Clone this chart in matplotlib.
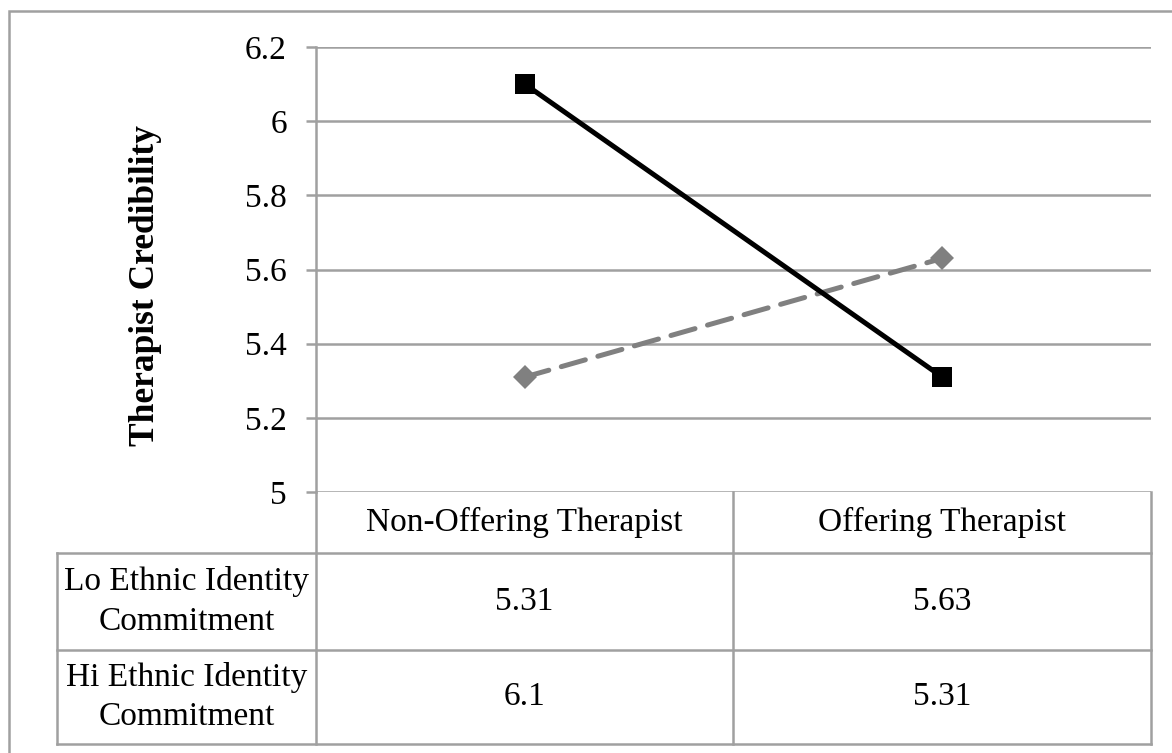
import matplotlib
matplotlib.use("Agg")
import matplotlib.pyplot as plt
from matplotlib.patches import Rectangle
from matplotlib.lines import Line2D

categories = ["Non-Offering Therapist", "Offering Therapist"]
series_names = ["Lo Ethnic Identity\nCommitment", "Hi Ethnic Identity\nCommitment"]
lo_values = [5.31, 5.63]
hi_values = [6.1, 5.31]
value_labels = [["5.31", "5.63"], ["6.1", "5.31"]]
y_ticks = [5, 5.2, 5.4, 5.6, 5.8, 6, 6.2]
y_ticklabels = ["5", "5.2", "5.4", "5.6", "5.8", "6", "6.2"]
y_label = "Therapist Credibility"

plt.rcParams['font.family'] = ['Liberation Serif', 'DejaVu Serif']
W, H = 1172, 753
fig = plt.figure(figsize=(W / 100, H / 100), dpi=100)

GRAY = "#a0a0a0"
TXT = 24

def fx(px):
    return px / W

def fy(py):
    return 1 - py / H

# outer border
fig.patches.append(Rectangle((fx(9), fy(760)), fx(1180) - fx(9), fy(11) - fy(760),
                             transform=fig.transFigure, fill=False, edgecolor=GRAY,
                             linewidth=1.8, clip_on=False))

# main plot axes
ax_l, ax_r, ax_t, ax_b = 316, 1151, 47, 492
ax = fig.add_axes([fx(ax_l), fy(ax_b), fx(ax_r) - fx(ax_l), fy(ax_t) - fy(ax_b)])
ax.set_xlim(-0.5, 1.5)
ax.set_ylim(5, 6.2)
ax.set_yticks(y_ticks)
ax.set_yticklabels(y_ticklabels, fontsize=TXT)
ax.set_xticks([])
for s in ["top", "right", "bottom"]:
    ax.spines[s].set_visible(False)
ax.spines["left"].set_color(GRAY)
ax.spines["left"].set_linewidth(1.8)
ax.tick_params(axis="y", length=7, width=1.8, color=GRAY, pad=14)
ax.grid(axis="y", color=GRAY, linewidth=1.8)
ax.set_axisbelow(True)

xs = list(range(len(categories)))
ax.plot(xs, lo_values, color="#808080", linewidth=3.6, linestyle=(0, (5, 2.6)),
        dash_capstyle="round", marker="D", markersize=12, markeredgewidth=0,
        zorder=3, clip_on=False)
ax.plot(xs, hi_values, color="black", linewidth=3.6, linestyle="-",
        marker="s", markersize=15, markeredgewidth=0, zorder=4, clip_on=False)

fig.text(fx(145), fy(285), y_label, rotation=90, fontsize=25.5, fontweight="bold",
         ha="center", va="center")

# data table (pixel coordinates)
tab = fig.add_axes([0, 0, 1, 1])
tab.set_xlim(0, W)
tab.set_ylim(H, 0)
tab.axis("off")
tab.patch.set_alpha(0)

col_x = [57, 316, 733, 1151]
row_y = [492, 553, 650, 744]

def seg(x0, y0, x1, y1):
    tab.add_line(Line2D([x0, x1], [y0, y1], color=GRAY, linewidth=1.8))

seg(316, 492, 316, 744)
seg(733, 492, 733, 744)
seg(1151, 492, 1151, 744)
seg(57, 553, 57, 744)
seg(57, 553, 1151, 553)
seg(57, 650, 1151, 650)
seg(57, 744, 1151, 744)

for j, c in enumerate(categories):
    tab.text((col_x[j + 1] + col_x[j + 2]) / 2, (row_y[0] + row_y[1]) / 2, c,
             fontsize=TXT, ha="center", va="center")
for i, name in enumerate(series_names):
    yc = (row_y[i + 1] + row_y[i + 2]) / 2
    tab.text((col_x[0] + col_x[1]) / 2, yc, name, fontsize=TXT, ha="center",
             va="center", linespacing=1.4)
    for j in range(len(categories)):
        tab.text((col_x[j + 1] + col_x[j + 2]) / 2, yc, value_labels[i][j],
                 fontsize=TXT, ha="center", va="center")

fig.savefig("out.png", dpi=100)
